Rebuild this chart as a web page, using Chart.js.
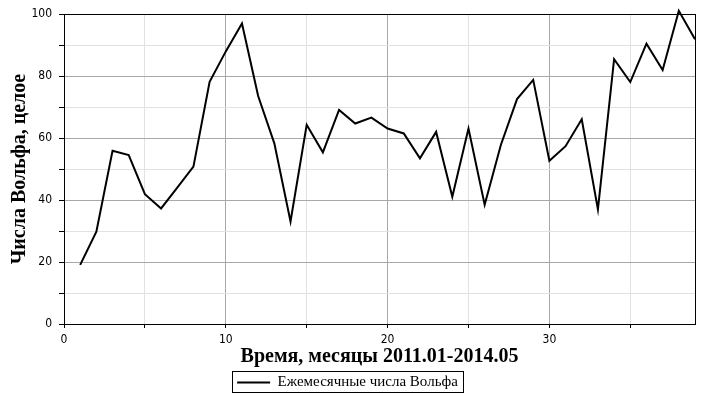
<!DOCTYPE html>
<html>
<head>
<meta charset="utf-8">
<script src="https://cdn.jsdelivr.net/npm/chart.js@4.4.1/dist/chart.umd.min.js"></script>
<style>
    html, body { margin: 0; padding: 0; background: #fff; }
    #wrap { width: 702px; height: 400px; position: relative; }
</style>
</head>
<body>
<div id="wrap"><canvas id="wolfchart"></canvas></div>
<script>
"use strict";

/* data */
var months = [1, 2, 3, 4, 5, 6, 7, 8, 9, 10, 11, 12, 13, 14, 15, 16, 17, 18, 19, 20,
    21, 22, 23, 24, 25, 26, 27, 28, 29, 30, 31, 32, 33, 34, 35, 36, 37, 38, 39];
var wolfNumbers = [19.1, 29.8, 55.9, 54.5, 41.9, 37.3, 44.0, 50.8, 78.2, 88.0, 97.0,
    73.6, 58.3, 33.1, 64.3, 55.4, 69.1, 64.7, 66.6, 63.1, 61.5, 53.5, 62.0, 41.1,
    63.1, 38.5, 57.8, 72.6, 78.8, 52.7, 57.4, 66.1, 37.0, 85.5, 78.1, 90.5, 82.0,
    101.1, 91.9];
var xTickLabels = [0, 10, 20, 30];
var yTickLabels = [0, 20, 40, 60, 80, 100];
var seriesName = 'Ежемесячные числа Вольфа';
var xTitle = 'Время, месяцы 2011.01-2014.05';
var yTitle = 'Числа Вольфа, целое';

var points = months.map(function (m, i) { return { x: m, y: wolfNumbers[i] }; });

/* box round the plot and round the legend */
var framePlugin = {
    id: 'frame',
    afterDraw: function (chart) {
        var ctx = chart.ctx;
        var a = chart.chartArea;
        ctx.save();
        ctx.strokeStyle = '#000';
        ctx.lineWidth = 1;
        ctx.strokeRect(Math.round(a.left) + 0.5, Math.round(a.top) + 0.5,
            Math.round(a.right - a.left), Math.round(a.bottom - a.top));
        var hb = chart.legend.legendHitBoxes[0];
        if (hb) {
            ctx.strokeRect(Math.round(hb.left) - 4.5, Math.round(hb.top) - 3.5,
                Math.round(hb.width) + 10, Math.round(hb.height) + 6);
        }
        ctx.restore();
    }
};

var tickFont = { family: '"Liberation Sans Narrow", "Arial Narrow", "DejaVu Sans Condensed", sans-serif', size: 12 };
var titleFont = { family: '"Liberation Serif", "Times New Roman", serif', size: 20, weight: 'bold' };

var wolfCtx = document.getElementById('wolfchart').getContext('2d');

var wolfConfig = {
    type: 'line',
    data: {
        datasets: [{
            label: seriesName,
            data: points,
            borderColor: '#000',
            backgroundColor: '#000',
            borderWidth: 2,
            pointRadius: 0,
            tension: 0,
            fill: false,
            clip: false,
        }]
    },
    options: {
        animation: false,
        responsive: true,
        maintainAspectRatio: false,
        layout: {
            padding: { top: 13, right: 7, left: 0, bottom: 0 }
        },
        plugins: {
            legend: {
                display: true,
                position: 'bottom',
                labels: {
                    color: '#000',
                    usePointStyle: true,
                    pointStyle: 'line',
                    pointStyleWidth: 33,
                    boxHeight: 15,
                    padding: 6,
                    font: { family: '"Liberation Serif", "Times New Roman", serif', size: 15 }
                }
            },
            tooltip: { enabled: false }
        },
        scales: {
            x: {
                type: 'linear',
                min: 0,
                max: 39,
                afterFit: function (scale) { scale.height = 45; },
                border: { display: true, color: '#000', width: 1 },
                grid: {
                    color: function (c) { return c.tick.value % 10 === 0 ? '#a8a8a8' : '#e2e2e2'; },
                    tickColor: function (c) { return c.tick.value % 5 === 0 ? '#000' : 'rgba(0,0,0,0)'; },
                    tickLength: 4,
                },
                ticks: {
                    stepSize: 5,
                    autoSkip: false,
                    maxRotation: 0,
                    padding: 5,
                    color: '#000',
                    font: tickFont,
                    callback: function (v) { return xTickLabels.indexOf(v) >= 0 ? String(v) : ''; }
                },
                title: {
                    display: true,
                    text: xTitle,
                    color: '#000',
                    font: titleFont,
                    padding: { top: 0, bottom: 0 }
                }
            },
            y: {
                min: 0,
                max: 100,
                afterFit: function (scale) { scale.width = 64; },
                border: { display: true, color: '#000', width: 1 },
                grid: {
                    color: function (c) { return c.tick.value % 20 === 0 ? '#a8a8a8' : '#e2e2e2'; },
                    tickColor: '#000',
                    tickLength: 5,
                },
                ticks: {
                    stepSize: 10,
                    autoSkip: false,
                    padding: 7,
                    color: '#000',
                    font: tickFont,
                    callback: function (v) { return yTickLabels.indexOf(v) >= 0 ? String(v) : ''; }
                },
                title: {
                    display: true,
                    text: yTitle,
                    color: '#000',
                    font: titleFont,
                    padding: { top: 8, bottom: 0 }
                }
            }
        }
    },
    plugins: [framePlugin]
};

var wolfChart = new Chart(wolfCtx, wolfConfig);
</script>
</body>
</html>
